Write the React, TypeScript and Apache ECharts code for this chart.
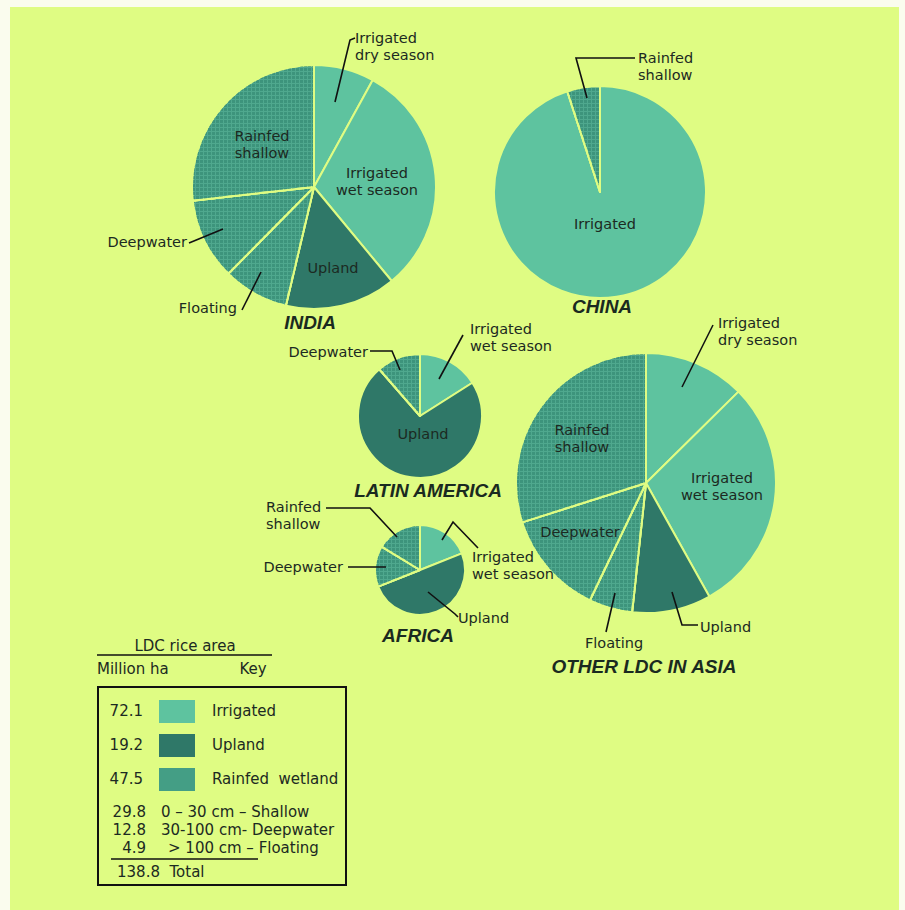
import React, { useEffect, useRef } from "react";
import * as echarts from "echarts";

// ---------- data (shares of each region's rice area, %) ----------
const indiaNames = ["Irrigated dry season", "Irrigated wet season", "Upland", "Floating", "Deepwater", "Rainfed shallow"];
const indiaValues = [8.0, 31.0, 14.7, 8.7, 10.8, 26.8];
const indiaTypes = ["irr", "irr", "upl", "rain", "rain", "rain"];

const chinaNames = ["Irrigated", "Rainfed shallow"];
const chinaValues = [95.0, 5.0];
const chinaTypes = ["irr", "rain"];

const latamNames = ["Irrigated wet season", "Upland", "Deepwater"];
const latamValues = [16.0, 72.6, 11.4];
const latamTypes = ["irr", "upl", "rain"];

const africaNames = ["Irrigated wet season", "Upland", "Deepwater", "Rainfed shallow"];
const africaValues = [19.0, 50.0, 14.7, 16.3];
const africaTypes = ["irr", "upl", "rain", "rain"];

const asiaNames = ["Irrigated dry season", "Irrigated wet season", "Upland", "Floating", "Deepwater", "Rainfed shallow"];
const asiaValues = [12.6, 29.3, 9.8, 5.4, 13.0, 29.9];
const asiaTypes = ["irr", "irr", "upl", "rain", "rain", "rain"];

// legend table
const keyValues = ["72.1", "19.2", "47.5"];
const keyLabels = ["Irrigated", "Upland", "Rainfed  wetland"];
const keyTypes = ["irr", "upl", "rain"];
const depthValues = ["29.8", "12.8", "4.9"];
const depthLabels = ["0 – 30 cm – Shallow", "30-100 cm- Deepwater", "> 100 cm – Floating"];
const totalValue = "138.8";

// ---------- styles ----------
const BG = "#dffc83";
const PAGE = "#fafcee";
const INK = "#1c2a22";
const COLORS: Record<string, string> = { irr: "#5ec39f", upl: "#2f7868", rain: "#4fa88e" };
const SWATCH: Record<string, string> = { irr: "#5ec39f", upl: "#2f7868", rain: "#449e85" };
const FONT = '"DejaVu Sans", sans-serif';
const TITLE_FONT = '"Liberation Sans", Arial, sans-serif';

function itemStyleFor(t: string) {
  if (t === "rain") {
    return {
      color: COLORS.rain,
      decal: {
        symbol: "rect",
        symbolSize: 1,
        color: "#3d947c",
        dashArrayX: [3, 1],
        dashArrayY: [3, 1],
        rotation: 0,
      },
    };
  }
  return { color: COLORS[t] };
}

function pie(name: string, center: number[], r: number, names: string[], values: number[], types: string[]) {
  return {
    type: "pie",
    name,
    center,
    radius: r,
    startAngle: 90,
    clockwise: true,
    silent: true,
    avoidLabelOverlap: false,
    label: { show: false },
    labelLine: { show: false },
    emphasis: { disabled: true },
    itemStyle: { borderColor: BG, borderWidth: 2 },
    data: names.map((n, i) => ({ name: n, value: values[i], itemStyle: itemStyleFor(types[i]) })),
    z: 2,
  };
}

function txt(text: string, x: number, y: number, align = "left", size = 14.5, extra: any = {}) {
  return {
    type: "text",
    x,
    y,
    z: 100,
    silent: true,
    style: {
      text,
      fill: INK,
      font: `${size}px ${FONT}`,
      align,
      verticalAlign: "middle",
      lineHeight: 17,
      ...extra,
    },
  };
}

function title(text: string, x: number, y: number) {
  return {
    type: "text",
    x,
    y,
    z: 100,
    silent: true,
    style: {
      text,
      fill: "#1a2a20",
      font: `italic bold 19px ${TITLE_FONT}`,
      align: "center",
      verticalAlign: "middle",
    },
  };
}

function line(points: number[][], w = 1.6) {
  return {
    type: "polyline",
    z: 100,
    silent: true,
    shape: { points },
    style: { stroke: "#111", lineWidth: w, fill: null },
  };
}

export default function App() {
  const ref = useRef<HTMLDivElement>(null);
  useEffect(() => {
    if (!ref.current) return;
    const chart = echarts.init(ref.current, null, { renderer: "svg" });

    const graphics: any[] = [
      { type: "rect", z: 0, silent: true, shape: { x: 10, y: 7, width: 889, height: 903 }, style: { fill: BG } },

      // India
      txt("Irrigated\ndry season", 355, 46),
      line([[335, 102], [350, 40], [355, 38]]),
      txt("Rainfed\nshallow", 262, 144, "center"),
      txt("Irrigated\nwet season", 377, 181, "center"),
      txt("Upland", 333, 268, "center"),
      txt("Deepwater", 187, 242, "right"),
      line([[189, 243], [223, 229]]),
      txt("Floating", 237, 308, "right"),
      line([[242, 310], [261, 272]]),
      title("INDIA", 310, 322),

      // China
      txt("Rainfed\nshallow", 638, 66),
      line([[635, 58], [576, 58], [587, 98]]),
      txt("Irrigated", 605, 224, "center"),
      title("CHINA", 602, 306),

      // Latin America
      txt("Deepwater", 368, 352, "right"),
      line([[370, 351], [392, 351], [400, 370]]),
      txt("Irrigated\nwet season", 470, 337),
      line([[463, 335], [439, 379]]),
      txt("Upland", 423, 434, "center"),
      title("LATIN AMERICA", 428, 490),

      // Africa
      txt("Rainfed\nshallow", 266, 515),
      line([[326, 508], [370, 508], [397, 537]]),
      txt("Deepwater", 343, 567, "right"),
      line([[348, 567], [386, 567]]),
      txt("Irrigated\nwet season", 472, 565),
      line([[442, 540], [453, 522], [478, 548]]),
      txt("Upland", 458, 618),
      line([[428, 592], [455, 614], [458, 617]]),
      title("AFRICA", 418, 635),

      // Other LDC in Asia
      txt("Irrigated\ndry season", 718, 331),
      line([[713, 325], [682, 387]]),
      txt("Rainfed\nshallow", 582, 438, "center"),
      txt("Irrigated\nwet season", 722, 486, "center"),
      txt("Deepwater", 580, 532, "center"),
      txt("Upland", 700, 627),
      line([[672, 592], [682, 625], [698, 625]]),
      txt("Floating", 614, 643, "center"),
      line([[606, 632], [615, 593]]),
      title("OTHER LDC IN ASIA", 644, 666),

      // legend header
      txt("LDC rice area", 185, 646, "center", 15),
      line([[97, 655], [272, 655]], 1.5),
      txt("Million ha", 97, 669, "left", 15),
      txt("Key", 253, 669, "center", 15),
      {
        type: "rect",
        z: 100,
        silent: true,
        shape: { x: 98, y: 687, width: 248, height: 198 },
        style: { fill: "none", stroke: "#111", lineWidth: 2 },
      },
      line([[111, 859], [258, 859]], 1.5),
      txt(totalValue + "  Total", 117, 872, "left", 15),
    ];

    keyValues.forEach((v, i) => {
      const y = 711 + i * 34;
      graphics.push(txt(v, 143, y, "right", 15));
      graphics.push({
        type: "rect",
        z: 100,
        silent: true,
        shape: { x: 159, y: y - 11, width: 36, height: 23 },
        style: { fill: SWATCH[keyTypes[i]] },
      });
      graphics.push(txt(keyLabels[i], 212, y, "left", 15));
    });

    depthValues.forEach((v, i) => {
      const y = 812 + i * 18;
      graphics.push(txt(v, 146, y, "right", 15));
      graphics.push(txt(depthLabels[i], i === 2 ? 168 : 161, y, "left", 15));
    });

    chart.setOption({
      animation: false,
      backgroundColor: PAGE,
      series: [
        pie("India", [314, 187], 122, indiaNames, indiaValues, indiaTypes),
        pie("China", [600, 192], 106, chinaNames, chinaValues, chinaTypes),
        pie("Latin America", [420, 416], 62, latamNames, latamValues, latamTypes),
        pie("Africa", [420, 570], 45, africaNames, africaValues, africaTypes),
        pie("Other LDC in Asia", [646, 483], 130, asiaNames, asiaValues, asiaTypes),
      ],
      graphic: { elements: graphics },
    });
    return () => chart.dispose();
  }, []);

  return (
    <div
      ref={ref}
      style={{ position: "absolute", left: 0, top: 0, width: 905, height: 910 }}
    />
  );
}
